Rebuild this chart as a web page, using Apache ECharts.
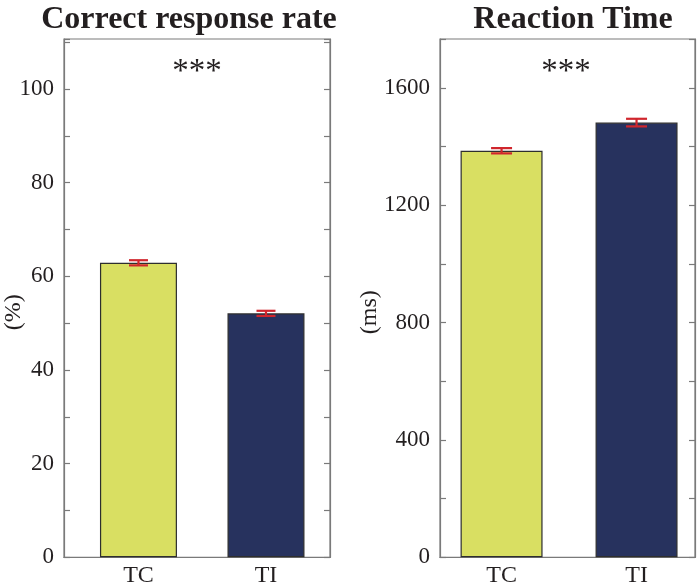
<!DOCTYPE html>
<html>
<head>
<meta charset="utf-8">
<script src="https://cdn.jsdelivr.net/npm/echarts@6/dist/echarts.min.js"></script>
<style>html,body{margin:0;padding:0;background:#fff;}#c{width:700px;height:585px;}</style>
</head>
<body>
<div id="c"></div>
<script>
const categories = ['TC', 'TI'];
const accuracyMean = [62.9, 52.1];
const accuracyErr = [0.55, 0.55];
const rtMean = [1386, 1482];
const rtErr = [9, 13];
const titles = ['Correct response rate', 'Reaction Time'];
const yNames = ['(%)', '(ms)'];
const sigMarks = ['***', '***'];

const barColors = ['#d9df62', '#27325e'];
const FONT = 'Liberation Serif';
const axisGray = '#7a7a7a';
const txt = '#231f20';

function errData(mean, err) {
  return mean.map((m, i) => [i + 1, m - err[i], m + err[i]]);
}
function barData(mean) {
  return mean.map((m, i) => ({ value: [i + 1, m], itemStyle: { color: barColors[i] } }));
}
function errRender(capHalf) {
  return function (params, api) {
    const x = api.value(0);
    const lo = api.coord([x, api.value(1)]);
    const hi = api.coord([x, api.value(2)]);
    const st = { stroke: '#d0262d', lineWidth: 2.2 };
    return {
      type: 'group',
      children: [
        { type: 'line', shape: { x1: lo[0], y1: lo[1], x2: hi[0], y2: hi[1] }, style: st },
        { type: 'line', shape: { x1: lo[0] - capHalf, y1: lo[1], x2: lo[0] + capHalf, y2: lo[1] }, style: st },
        { type: 'line', shape: { x1: hi[0] - capHalf, y1: hi[1], x2: hi[0] + capHalf, y2: hi[1] }, style: st }
      ]
    };
  };
}

const grids = [
  { left: 64, top: 39, width: 266, height: 518.3, show: true, borderColor: axisGray, borderWidth: 1.2, containLabel: false, outerBoundsMode: 'none' },
  { left: 440, top: 39, width: 255, height: 518.3, show: true, borderColor: axisGray, borderWidth: 1.2, containLabel: false, outerBoundsMode: 'none' }
];

function xAx(gi, min, max) {
  return {
    type: 'value', gridIndex: gi, min: min, max: max,
    axisLine: { show: true, lineStyle: { color: axisGray, width: 1.2 } },
    axisTick: { show: false },
    splitLine: { show: false },
    axisLabel: {
      customValues: [1, 2],
      formatter: v => categories[Math.round(v) - 1] || '',
      fontFamily: FONT, fontSize: 24, color: txt, margin: 6
    }
  };
}
function yAx(gi, max, interval, labelEvery, name, nameGap, pos, showLabel) {
  return {
    type: 'value', gridIndex: gi, min: 0, max: max, interval: interval, position: pos,
    name: showLabel ? name : '', nameLocation: 'middle', nameGap: nameGap, nameRotate: 90,
    nameMoveOverlap: false,
    nameTextStyle: { fontFamily: FONT, fontSize: 24, color: txt, padding: [0, 28, 0, 0] },
    axisLine: { show: true, lineStyle: { color: axisGray, width: 1.2 } },
    axisTick: { show: true, inside: true, length: 6, lineStyle: { color: axisGray, width: 1.2 } },
    splitLine: { show: false },
    axisLabel: {
      show: showLabel,
      formatter: v => (Math.abs(v % labelEvery) < 1e-9 ? String(v) : ''),
      fontFamily: FONT, fontSize: 23, color: txt, margin: 10
    }
  };
}

const chart = echarts.init(document.getElementById('c'), null, { renderer: 'canvas' });
chart.setOption({
  animation: false,
  backgroundColor: '#fff',
  title: [
    { text: titles[0], left: 184, top: -1, textAlign: 'center',
      textStyle: { fontFamily: FONT, fontSize: 32, fontWeight: 'bold', color: txt } },
    { text: titles[1], left: 568, top: -1, textAlign: 'center',
      textStyle: { fontFamily: FONT, fontSize: 32, fontWeight: 'bold', color: txt } }
  ],
  grid: grids,
  xAxis: [xAx(0, 0.416, 2.502), xAx(1, 0.544, 2.433)],
  yAxis: [
    yAx(0, 110.7, 10, 20, yNames[0], 38, 'left', true),
    yAx(0, 110.7, 10, 20, '', 0, 'right', false),
    yAx(1, 1767, 200, 400, yNames[1], 58, 'left', true),
    yAx(1, 1767, 200, 400, '', 0, 'right', false)
  ],
  graphic: [
    { type: 'text', x: 197, y: 56, style: { text: sigMarks[0], fontFamily: FONT, fontSize: 33, fill: txt, align: 'center', textAlign: 'center' } },
    { type: 'text', x: 566, y: 56, style: { text: sigMarks[1], fontFamily: FONT, fontSize: 33, fill: txt, align: 'center', textAlign: 'center' } }
  ],
  series: [
    { type: 'bar', xAxisIndex: 0, yAxisIndex: 0, barWidth: 77, data: barData(accuracyMean),
      itemStyle: { borderColor: '#2e2e2e', borderWidth: 1.2 } },
    { type: 'custom', xAxisIndex: 0, yAxisIndex: 0, renderItem: errRender(9.5), data: errData(accuracyMean, accuracyErr), z: 5 },
    { type: 'bar', xAxisIndex: 1, yAxisIndex: 2, barWidth: 82, data: barData(rtMean),
      itemStyle: { borderColor: '#2e2e2e', borderWidth: 1.2 } },
    { type: 'custom', xAxisIndex: 1, yAxisIndex: 2, renderItem: errRender(10.5), data: errData(rtMean, rtErr), z: 5 }
  ]
});
</script>
</body>
</html>
